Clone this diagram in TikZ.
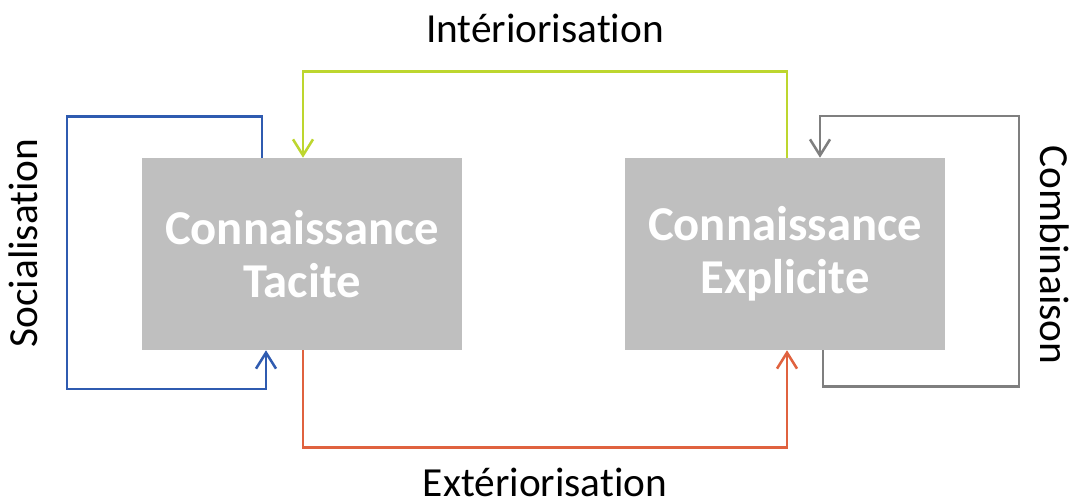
\documentclass[tikz,border=0pt]{standalone}
\usepackage{fontspec}
\setmainfont{Carlito}[Ligatures=NoCommon]
\usetikzlibrary{arrows.meta,calc}

\definecolor{boxgray}{HTML}{BFBFBF}
\definecolor{socblue}{HTML}{2F5BB0}
\definecolor{intgreen}{HTML}{BDD62E}
\definecolor{combgray}{HTML}{7F7F7F}
\definecolor{extorange}{HTML}{E0623F}

\tikzset{
  savoir/.style={fill=boxgray, text=white, minimum width=240pt, minimum height=144pt,
    align=center, font=\fontsize{36.5}{40}\selectfont\bfseries},
  flux/.style={line width=1.9pt, -{Straight Barb[length=12pt,width=15pt,line width=1.9pt]}},
  etiquette/.style={font=\fontsize{31}{35}\selectfont, anchor=base, inner sep=0pt, text depth=0pt}
}

\begin{document}
\begin{tikzpicture}[x=0.75pt,y=-0.75pt]
					\useasboundingbox (0,0) rectangle (1069,502);

					\node[savoir] (tacite) at (302,254) {Connaissance\\Tacite};
					\node[savoir] (explicite) at (785,254) {Connaissance\\Explicite};

					% les quatre conversions
					\draw[flux,socblue] ($(tacite.north)+(-40,0)$) -- ++(0,-41) -| (67,389) -| ($(tacite.south)+(-36,0)$);
					\draw[flux,intgreen] ($(explicite.north)+(2,0)$) -- ++(0,-86) -| ($(tacite.north)+(1,0)$);
					\draw[flux,extorange] ($(tacite.south)+(1,0)$) -- ++(0,97) -| ($(explicite.south)+(2,0)$);
					\draw[flux,combgray] ($(explicite.south)+(38,0)$) -- ++(0,36) -| (1019,116) -| ($(explicite.north)+(35,0)$);

					\node[etiquette] (inter) at (545,43) {Intériorisation};
					\node[etiquette] (exter) at (545,496) {Extériorisation};
					\node[etiquette,rotate=90] (socia) at (37,243) {Socialisation};
					\node[etiquette,rotate=-90] (combi) at (1040,255) {Combinaison};
\end{tikzpicture}
\end{document}
